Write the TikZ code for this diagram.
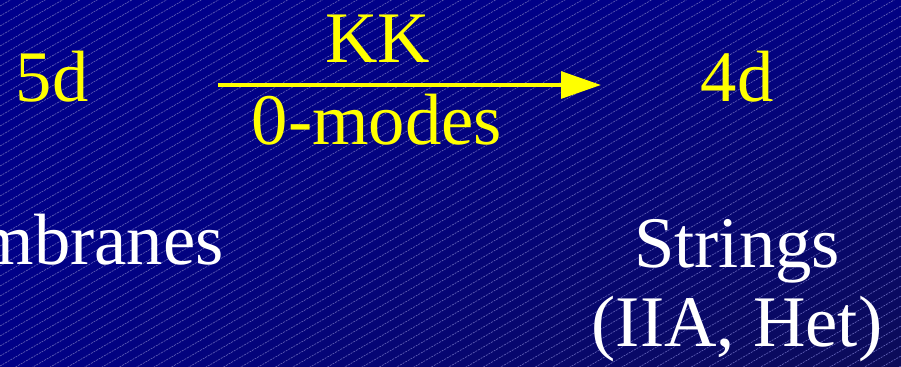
\documentclass[tikz,border=0pt]{standalone}
\usepackage{fontspec}
\setmainfont{Liberation Serif}
\usetikzlibrary{arrows.meta,shadings}
\definecolor{slidenavy}{RGB}{0,0,140}
\definecolor{slidedark}{RGB}{12,12,88}
\definecolor{stripeblue}{RGB}{96,96,180}
\definecolor{kkyellow}{RGB}{255,255,0}

\begin{document}
\begin{tikzpicture}[x=0.03cm,y=0.03cm,
    dimtext/.style={inner sep=0pt,text=kkyellow,font=\fontsize{62}{70}\selectfont},
    theorytext/.style={inner sep=0pt,text=white,font=\fontsize{62}{70}\selectfont},
    kkarrow/.style={-{Triangle[length=1.2cm,width=0.8cm]},line width=0.12cm,draw=kkyellow}
  ]
    % background
    \useasboundingbox (0,0) rectangle (901,366);
    \clip (0,0) rectangle (901,366);
    \shade[upper left=slidenavy,upper right=slidenavy!85!slidedark,lower left=slidenavy!90!slidedark,lower right=slidedark] (0,0) rectangle (901,366);
    \foreach \c in {-520,-510,...,370}
      \draw[stripeblue,line width=0.02cm,dash pattern=on 0.06cm off 0.03cm] (0,\c) -- (901,\c+520);
    % labels
    \node[dimtext,anchor=base] (fived) at (52,264) {5d};
    \node[dimtext,anchor=base] (fourd) at (737,264) {4d};
    \node[dimtext,anchor=base] (kk) at (378,303) {KK};
    \node[dimtext,anchor=base] (zeromodes) at (377,221) {0-modes};
    \node[theorytext,anchor=base east] (membranes) at (224,101) {mbranes};
    \node[theorytext,anchor=base,align=center] (strings) at (737,98) {Strings};
    \node[theorytext,anchor=base] (types) at (737,19) {(IIA, Het)};
    % arrow
    \coordinate (arrowstart) at (218,281);
    \coordinate (arrowend) at (601,281);
    \draw[kkarrow] (arrowstart) -- (arrowend);
  \end{tikzpicture}
\end{document}
